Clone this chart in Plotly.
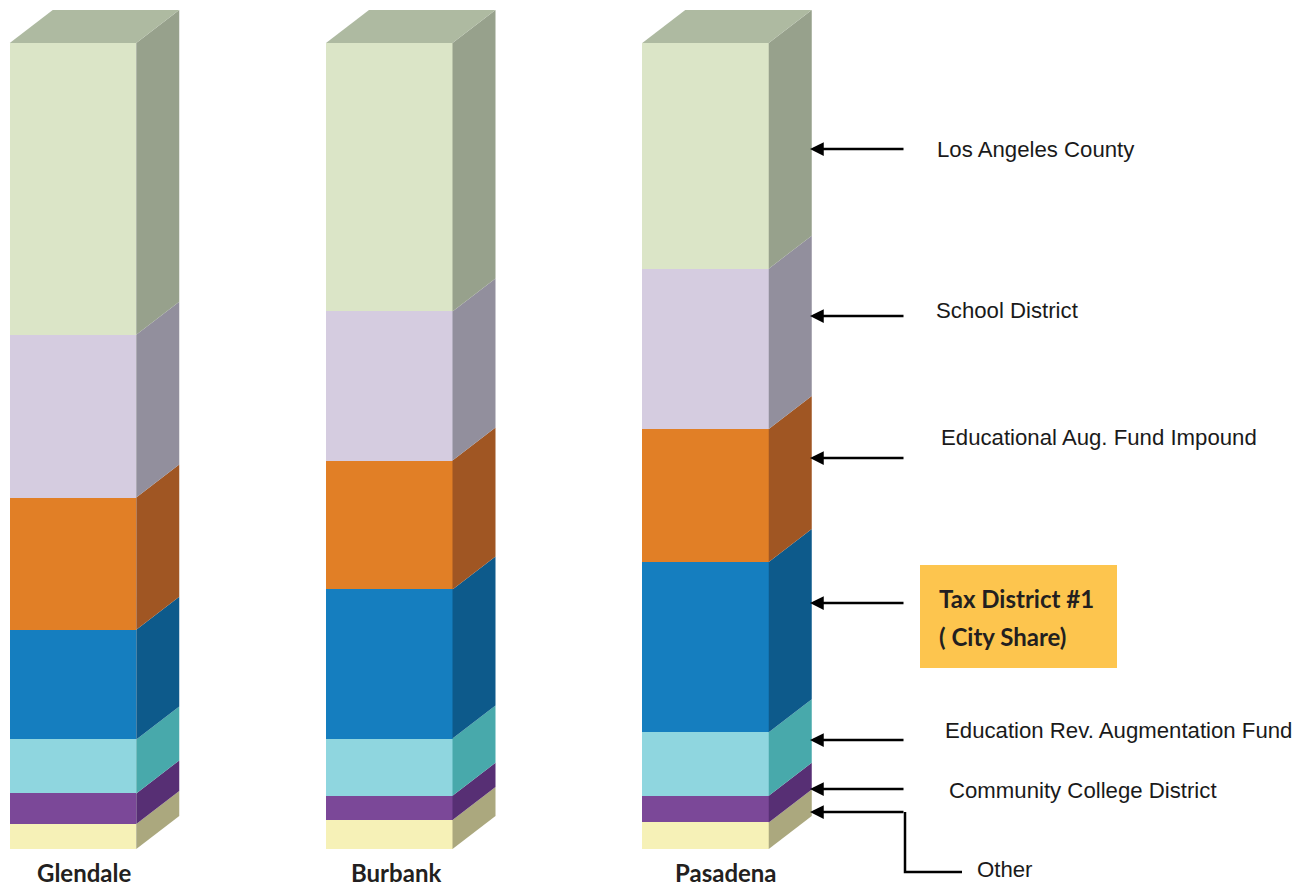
import plotly.graph_objects as go

# ---------------- data ----------------
cities = ["Glendale", "Burbank", "Pasadena"]
segments = ["Other", "Community College District", "Education Rev. Augmentation Fund",
            "Tax District #1", "Educational Aug. Fund Impound", "School District",
            "Los Angeles County"]
other = [3.1, 3.6, 3.3]
community_college = [3.8, 3.0, 3.3]
eraf = [6.7, 7.1, 7.9]
tax_district = [13.6, 18.5, 21.1]
eaf_impound = [16.4, 16.0, 16.5]
school_district = [20.2, 18.5, 19.9]
la_county = [36.2, 33.3, 28.0]

series = [other, community_college, eraf, tax_district, eaf_impound, school_district, la_county]

front_colors = ["#F6F1B7", "#7B4898", "#8FD6DF", "#157EBF", "#E17F26", "#D5CCE0", "#DBE5C7"]
side_colors = ["#ABA87E", "#572F74", "#48A9AB", "#0D5A8B", "#A05623", "#928F9D", "#97A18C"]
top_color = "#AEBAA1"

# ---------------- geometry (layout) ----------------
W, H = 1309, 888
unit_px = 316.25           # px per category step
x_first_px = 73.0          # centre of first bar front
x0 = -x_first_px / unit_px
x1 = x0 + W / unit_px
bar_w = 126.5 / unit_px
y_px_per = 8.06
base_px = 849.0
y0 = -(H - base_px) / y_px_per
y1 = base_px / y_px_per
dx = 43.0 / unit_px
dy = 33.0 / y_px_per

xs = list(range(len(cities)))
fig = go.Figure()

# front faces
for name, vals, col in zip(segments, series, front_colors):
    fig.add_trace(go.Bar(x=xs, y=vals, width=bar_w, name=name,
                         marker=dict(color=col, line=dict(width=0)),
                         hoverinfo="skip", showlegend=False))

# side faces and tops
for i in xs:
    xr = i + bar_w / 2
    xl = i - bar_w / 2
    cum = 0.0
    for vals, col in zip(series, side_colors):
        b, t = cum, cum + vals[i]
        cum = t
        fig.add_trace(go.Scatter(
            x=[xr, xr + dx, xr + dx, xr, xr],
            y=[b, b + dy, t + dy, t, b],
            mode="lines", fill="toself", fillcolor=col,
            line=dict(width=0, color=col), hoverinfo="skip", showlegend=False))
    fig.add_trace(go.Scatter(
        x=[xl, xl + dx, xr + dx, xr, xl],
        y=[cum, cum + dy, cum + dy, cum, cum],
        mode="lines", fill="toself", fillcolor=top_color,
        line=dict(width=0, color=top_color), hoverinfo="skip", showlegend=False))

def px(xp):
    return xp / W

def py(yp):
    return 1 - yp / H

annotations = []
# category labels
label_x = [84, 396.5, 726]
for name, lx in zip(cities, label_x):
    annotations.append(dict(x=px(lx), y=py(872), xref="paper", yref="paper",
                            text=name, showarrow=False, xanchor="center", yanchor="middle",
                            borderpad=0,
                            font=dict(family="Lato", size=24, color="#231F20", weight="bold")))

# arrows
tip_x = 810
arrow_y = [149, 316, 458, 603, 740, 789, 812]
for ay_ in arrow_y:
    annotations.append(dict(x=px(tip_x), y=py(ay_), xref="paper", yref="paper",
                            ax=95, ay=0, axref="pixel", ayref="pixel", text="",
                            showarrow=True, arrowhead=2, arrowsize=1.1, arrowwidth=2.5,
                            arrowcolor="#000000", standoff=0, startstandoff=0))

# right-hand labels
label_font = dict(family="Liberation Sans", size=22.2, color="#1A1A1A")
right_labels = [("Los Angeles County", 935, 149), ("School District", 934, 310),
                ("Educational Aug. Fund Impound", 939, 438),
                ("Education Rev. Augmentation Fund", 943, 730),
                ("Community College District", 947, 790), ("Other", 975, 869)]
for txt, lx, ly in right_labels:
    annotations.append(dict(x=px(lx), y=py(ly), xref="paper", yref="paper", text=txt,
                            showarrow=False, xanchor="left", yanchor="middle", font=label_font))

bold_font = dict(family="Lato", size=24, color="#231F20", weight="bold")
annotations.append(dict(x=px(937), y=py(598), xref="paper", yref="paper", text="Tax District #1",
                        showarrow=False, xanchor="left", yanchor="middle", font=bold_font))
annotations.append(dict(x=px(937), y=py(636), xref="paper", yref="paper", text="( City Share)",
                        showarrow=False, xanchor="left", yanchor="middle", font=bold_font))

shapes = [
    dict(type="rect", xref="paper", yref="paper", x0=px(920), x1=px(1117), y0=py(668), y1=py(565),
         fillcolor="#FDC54E", line=dict(width=0), layer="below"),
    dict(type="path", xref="paper", yref="paper",
         path=f"M {px(905)} {py(812)} L {px(905)} {py(872)} L {px(962)} {py(872)}",
         line=dict(color="#000000", width=2.5)),
]

fig.update_layout(
    width=W, height=H, autosize=False,
    margin=dict(l=0, r=0, t=0, b=0),
    barmode="stack", bargap=0,
    paper_bgcolor="#FFFFFF", plot_bgcolor="#FFFFFF",
    xaxis=dict(range=[x0, x1], visible=False, fixedrange=True),
    yaxis=dict(range=[y0, y1], visible=False, fixedrange=True),
    annotations=annotations, shapes=shapes, showlegend=False,
)

fig.write_html("out.html", config={"displayModeBar": False})
